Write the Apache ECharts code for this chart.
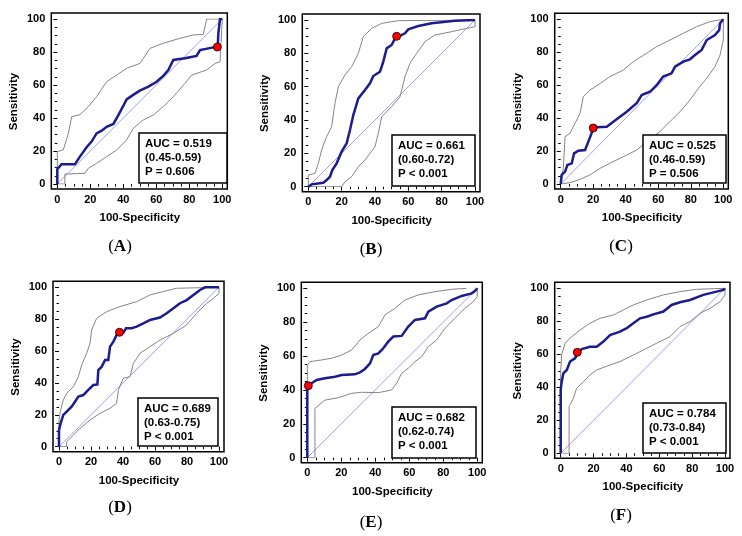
<!DOCTYPE html>
<html>
<head>
<meta charset="utf-8">
<script src="https://cdn.jsdelivr.net/npm/echarts@6/dist/echarts.min.js"></script>
<style>
  html, body { margin: 0; padding: 0; background: #fff; }
  #chart { width: 742px; height: 536px; }
</style>
</head>
<body>
<div id="chart"></div>
<script>
// ---- data (x = 100-Specificity, y = Sensitivity) ----
const diagonal = [[0, 0], [100, 100]];

const rocA = [[0,0],[0,9],[1.2,9.5],[2.6,12],[10.7,12],[13.7,16.6],[18,22.6],[20.8,25.7],[23.8,30.7],[26.9,32.3],[29.9,34.7],[34,36.4],[37,41.8],[40,47.3],[42,51.3],[46,54],[50,56.6],[55.2,59],[60.2,62],[64.2,65.5],[67.3,69.1],[70.3,75.2],[77.4,76.2],[84.4,77.6],[86.5,81.2],[94.5,82.8],[97.2,83],[97.6,91.3],[98.6,100],[100,100]];
const upperA = [[0,0],[0,19.6],[3.6,20.6],[6.7,30.7],[8.7,40.8],[13.7,42],[18.8,46.9],[23.8,52.9],[29.9,62],[36,66],[42,70.1],[50.1,73.1],[56.2,82.2],[64.2,85.3],[74.3,88.3],[82.4,90.3],[88.5,90.7],[90.5,100],[100,100]];
const lowerA = [[0,0],[4.6,0],[4.6,6],[16.8,6.5],[18.8,9.5],[23.8,12.5],[29.9,16.6],[36,20.6],[42,26.7],[46,33.7],[52.1,38.8],[58.2,41.8],[64.2,46.9],[70.3,52.9],[77.4,61],[81.4,66],[90.5,69.1],[95.6,73.1],[98.6,74.1],[100,100]];
const cutA = [97, 83];
const statsA = ['AUC = 0.519', '(0.45-0.59)', 'P = 0.606'];

const rocB = [[0,0],[2,1.4],[9,2.4],[11,4],[13,6],[14.4,10],[17,14],[20,21],[23,26],[25,34],[27,43],[30,53],[34,58],[37,62],[39,66.4],[43,69],[45,75],[47,83],[50,85],[52,89],[58,92],[60,94.4],[66,96.4],[74,98],[88,99.6],[100,100]];
const upperB = [[0,0],[0,7],[4,8],[6,14],[8,22],[11,30],[14,36],[16,50],[18,60],[22,67],[26,72],[30,80],[33,90],[38,95],[44,98],[54,99.6],[100,100]];
const lowerB = [[0,0],[20,0],[22,3],[26,6],[30,12],[34,16],[37,20],[40,24],[42,32],[44,42],[50,48],[55,54],[58,66],[61,74],[65,80],[70,87],[76,91],[86,93],[95,95],[100,96],[100,100]];
const cutB = [53, 90.2];
const statsB = ['AUC = 0.661', '(0.60-0.72)', 'P < 0.001'];

const rocC = [[0,0],[0.6,5.5],[2.7,7.5],[4.1,11.5],[6.8,12.5],[8.2,18.6],[10.9,20.2],[15,20.6],[17,25.7],[19,30.8],[20,34],[22,34.4],[28.3,34.8],[34.4,39.3],[40.6,43.9],[46.7,49],[49.8,54],[54.9,56],[59,60],[63,65.2],[68.2,67.2],[70.3,71.3],[75.4,74.3],[79.5,75.7],[82.6,78.3],[86.7,81.4],[89.8,87.4],[94.9,90.5],[97.5,93.5],[98,97.6],[100,100]];
const upperC = [[0,0],[1.6,9.5],[2.7,28.7],[5.7,30.8],[8.8,36.8],[11.9,42.9],[13.9,53],[18,57],[24.2,61],[30.3,65.2],[38.5,69.2],[44.7,74.3],[52.9,79.4],[59,83.4],[67.2,87.4],[75.4,91.5],[83.6,95.5],[91.8,98.6],[100,100]];
const lowerC = [[0,0],[5.7,0.8],[10.9,2.4],[18,5.5],[24.2,9.5],[30.3,12.6],[38.5,16.6],[46.7,20.6],[52.9,25.7],[61,31.8],[67.2,37.9],[73.4,43.9],[79.5,51],[84.6,58],[89.8,64.2],[94.9,71.3],[98,78.3],[100,87.4],[100,100]];
const cutC = [20, 34];
const statsC = ['AUC = 0.525', '(0.46-0.59)', 'P = 0.506'];

const rocD = [[0,0],[0,10.5],[1,14.6],[2.7,19.9],[4.8,22],[7.9,25.1],[10,28.2],[12.1,31.4],[15.2,32.4],[18.3,35.6],[21.5,38.7],[24,39.1],[24.6,48.1],[26.7,50.2],[28.8,54.4],[30.8,54.4],[31.9,62.8],[34,65.9],[36,70.1],[37.5,71.5],[40.2,71.5],[41.9,74.3],[45.4,74.3],[48.5,75.3],[52.7,77.4],[56.9,79.5],[63.1,81],[67.3,83.7],[71.5,86.8],[75.6,90],[79.8,92],[84,95.2],[88.1,98.3],[91.3,100],[100,100]];
const upperD = [[0,0],[0,16.7],[1,23],[2.7,29.3],[4.8,33.5],[9,37.7],[12.1,43.9],[14.2,51.3],[17.3,58.6],[19.4,64.9],[20.4,73.2],[23.5,80.5],[29.8,84.7],[38.1,87.9],[48.5,91],[56.9,95.2],[67.3,97.9],[73.5,99.4],[100,100]];
const lowerD = [[0,0],[4.8,0],[4.8,3.1],[9,7.3],[13.1,11.5],[19.4,16.7],[25.6,20.9],[31.9,24.1],[36,27.2],[37.1,35.6],[40.2,42.9],[44.4,43.9],[46.5,52.3],[50.6,58.6],[56.9,62.8],[63.1,66.9],[71.5,71.1],[79.8,76.4],[86,83.7],[92.3,90],[96.5,93.1],[100,96.2],[100,100]];
const cutD = [37.8, 71.8];
const statsD = ['AUC = 0.689', '(0.63-0.75)', 'P < 0.001'];

const rocE = [[0,0],[0,41],[0.6,42.5],[2.5,43.9],[5.5,45.9],[10.4,46.9],[16.3,47.8],[20.2,48.8],[28,49.2],[31,50.4],[33.9,52.4],[36.9,55.7],[38.8,60.6],[41.8,61.6],[44.7,64.6],[47.6,68.5],[50.6,71.5],[55.5,71.9],[59.4,77.4],[63.3,81.3],[69.2,82.3],[71.2,86.2],[76.1,89.2],[82,91.1],[84.9,93.1],[90.8,95.5],[96.7,97],[98.6,98.4],[100,100]];
const upperE = [[0,0],[0,54.7],[1.6,56.7],[8.4,57.7],[14.3,58.7],[20.2,60.6],[26.1,63.6],[31,69.5],[35.9,73.4],[41.8,77.4],[45.7,84.3],[51.6,88.2],[57.5,93.1],[65.3,96.1],[75.1,98],[84.9,99.4],[93.7,100]];
const lowerE = [[0,0],[4.5,0],[4.5,29.1],[5.5,30.1],[10.4,34],[18.2,35.4],[26.1,38],[31.9,38.6],[41.8,38.4],[49.6,40],[52.5,43.9],[55.5,49.8],[59.4,52.8],[63.3,56.7],[67.3,59.6],[71.2,65.6],[76.1,69.5],[81,76.4],[86.9,82.3],[92.7,88.2],[97.6,92.1],[100,95.1],[100,100]];
const cutE = [0.6, 42.5];
const statsE = ['AUC = 0.682', '(0.62-0.74)', 'P < 0.001'];

const rocF = [[0,0],[0,38.4],[0.6,43.4],[1.6,48.5],[3.7,50.5],[5.7,55.6],[8.7,57.6],[10.1,60],[12.8,63.2],[17.8,64.6],[21.9,64.6],[26,67.7],[30,71.7],[36.1,73.7],[40.2,75.8],[44.2,78.8],[48.3,81.8],[52.3,82.8],[56.4,84.2],[62.5,85.9],[67.5,89.9],[72.6,91.5],[78.7,92.9],[86.8,96],[94.9,98],[99,99],[100,100]];
const upperF = [[0,0],[0,49.5],[0.6,59.6],[2.6,66.7],[6.7,70.7],[11.8,74.7],[17.8,78.8],[23.9,81.8],[32,83.8],[38.1,86.9],[44.2,89.9],[52.3,92.9],[62.5,96],[72.6,98],[82.8,99.4],[100,100]];
const lowerF = [[0,0],[5.1,0],[5.1,28.3],[7.7,33.3],[9.7,39.4],[13.8,43.4],[17.8,47.5],[21.9,50.5],[30,53.5],[36.1,55.6],[42.2,58.6],[50.3,62.6],[58.4,66.7],[66.5,70.7],[72.6,76.8],[78.7,79.8],[84.8,84.8],[90.9,87.9],[97,91.9],[100,96],[100,100]];
const cutF = [10.1, 61.2];
const statsF = ['AUC = 0.784', '(0.73-0.84)', 'P < 0.001'];

const panelTags = ['A', 'B', 'C', 'D', 'E', 'F'];

// ---- layout (pixels) ----
// plot area of the 0..100 range: [left, top, width, height]
const plotRects = [
  [57.3, 19, 165, 165], [308.3, 20, 166.7, 166.7], [560.7, 19.3, 162.6, 164.7],
  [59, 287.3, 160, 159.4], [307.3, 288.3, 170, 169.4], [560.7, 288.3, 164.3, 165]
];
const boxRects = [
  [139, 133, 88, 50], [392, 135, 83, 51], [643, 135, 83, 48],
  [138, 398, 80, 48], [392, 407, 84, 51], [643, 403, 83, 50]
];
const tagPos = [[120, 247], [371, 250], [621, 247], [120, 508], [371, 523], [621, 516]];
const padL = 6, padR = 5, padT = 6, padB = 5;

const panels = [
  { roc: rocA, upper: upperA, lower: lowerA, cut: cutA, stats: statsA },
  { roc: rocB, upper: upperB, lower: lowerB, cut: cutB, stats: statsB },
  { roc: rocC, upper: upperC, lower: lowerC, cut: cutC, stats: statsC },
  { roc: rocD, upper: upperD, lower: lowerD, cut: cutD, stats: statsD },
  { roc: rocE, upper: upperE, lower: lowerE, cut: cutE, stats: statsE },
  { roc: rocF, upper: upperF, lower: lowerF, cut: cutF, stats: statsF }
];

const sans = "'Liberation Sans', Arial, sans-serif";
const serif = "'Liberation Serif', 'Times New Roman', serif";
const labelStyle = { color: '#000', fontWeight: 'bold', fontSize: 11, fontFamily: sans };
const nameStyle = { color: '#000', fontWeight: 'bold', fontSize: 11.5, fontFamily: sans };

const grid = [], xAxis = [], yAxis = [], series = [], graphic = [];

panels.forEach((p, i) => {
  const [l, t, w, h] = plotRects[i];
  grid.push({ left: l, top: t, width: w, height: h });

  const common = {
    gridIndex: i, type: 'value', min: 0, max: 100, interval: 20,
    axisLine: { show: false },
    axisTick: { show: true, length: 4, lineStyle: { color: '#000', width: 1 } },
    minorTick: { show: true, splitNumber: 4, length: 2.5, lineStyle: { color: '#000', width: 1 } },
    splitLine: { show: false },
    minorSplitLine: { show: false },
    nameLocation: 'middle',
    nameTextStyle: nameStyle
  };
  xAxis.push(Object.assign({}, common, {
    position: 'bottom', offset: padB, name: '100-Specificity', nameGap: 23,
    axisLabel: Object.assign({ margin: 5 }, labelStyle)
  }));
  yAxis.push(Object.assign({}, common, {
    position: 'left', offset: padL, name: 'Sensitivity', nameGap: 31,
    axisLabel: Object.assign({ margin: 6 }, labelStyle)
  }));

  const base = { type: 'line', xAxisIndex: i, yAxisIndex: i, symbol: 'none', silent: true, animation: false };
  series.push(Object.assign({}, base, { data: diagonal, lineStyle: { color: '#8585ff', width: 0.8 }, z: 1 }));
  series.push(Object.assign({}, base, { data: p.upper, lineStyle: { color: '#858585', width: 1 }, z: 2 }));
  series.push(Object.assign({}, base, { data: p.lower, lineStyle: { color: '#858585', width: 1 }, z: 2 }));
  series.push(Object.assign({}, base, { data: p.roc, lineStyle: { color: '#1c1c8e', width: 2.5, join: 'miter' }, z: 3 }));
  series.push({
    type: 'scatter', xAxisIndex: i, yAxisIndex: i, data: [p.cut], symbolSize: 8, z: 4,
    itemStyle: { color: '#ff0000', borderColor: '#000', borderWidth: 0.8, opacity: 1 }, animation: false
  });

  // frame around the plot
  graphic.push({
    type: 'rect', z: 50, silent: true,
    shape: { x: l - padL, y: t - padT, width: w + padL + padR, height: h + padT + padB },
    style: { fill: 'none', stroke: '#000', lineWidth: 1.5 }
  });
  // AUC box
  const [bx, by, bw, bh] = boxRects[i];
  graphic.push({
    type: 'rect', z: 60, silent: true,
    shape: { x: bx, y: by, width: bw, height: bh },
    style: { fill: '#fff', stroke: '#000', lineWidth: 1.5 }
  });
  graphic.push({
    type: 'text', z: 61, silent: true, x: bx + 6, y: by + 4,
    style: { text: p.stats.join('\n'), fill: '#000', font: 'bold 11.5px ' + sans, lineHeight: 14, align: 'left', verticalAlign: 'top' }
  });
  // panel tag
  graphic.push({
    type: 'text', z: 61, silent: true, x: tagPos[i][0], y: tagPos[i][1],
    style: {
      text: '{p|(}{b|' + panelTags[i] + '}{p|)}', align: 'center', verticalAlign: 'middle',
      rich: {
        p: { font: '17px ' + serif, fill: '#000' },
        b: { font: 'bold 17px ' + serif, fill: '#000' }
      }
    }
  });
});

const chart = echarts.init(document.getElementById('chart'), null, { renderer: 'canvas' });
chart.setOption({
  animation: false,
  backgroundColor: '#fff',
  grid, xAxis, yAxis, series, graphic
});
</script>
</body>
</html>
